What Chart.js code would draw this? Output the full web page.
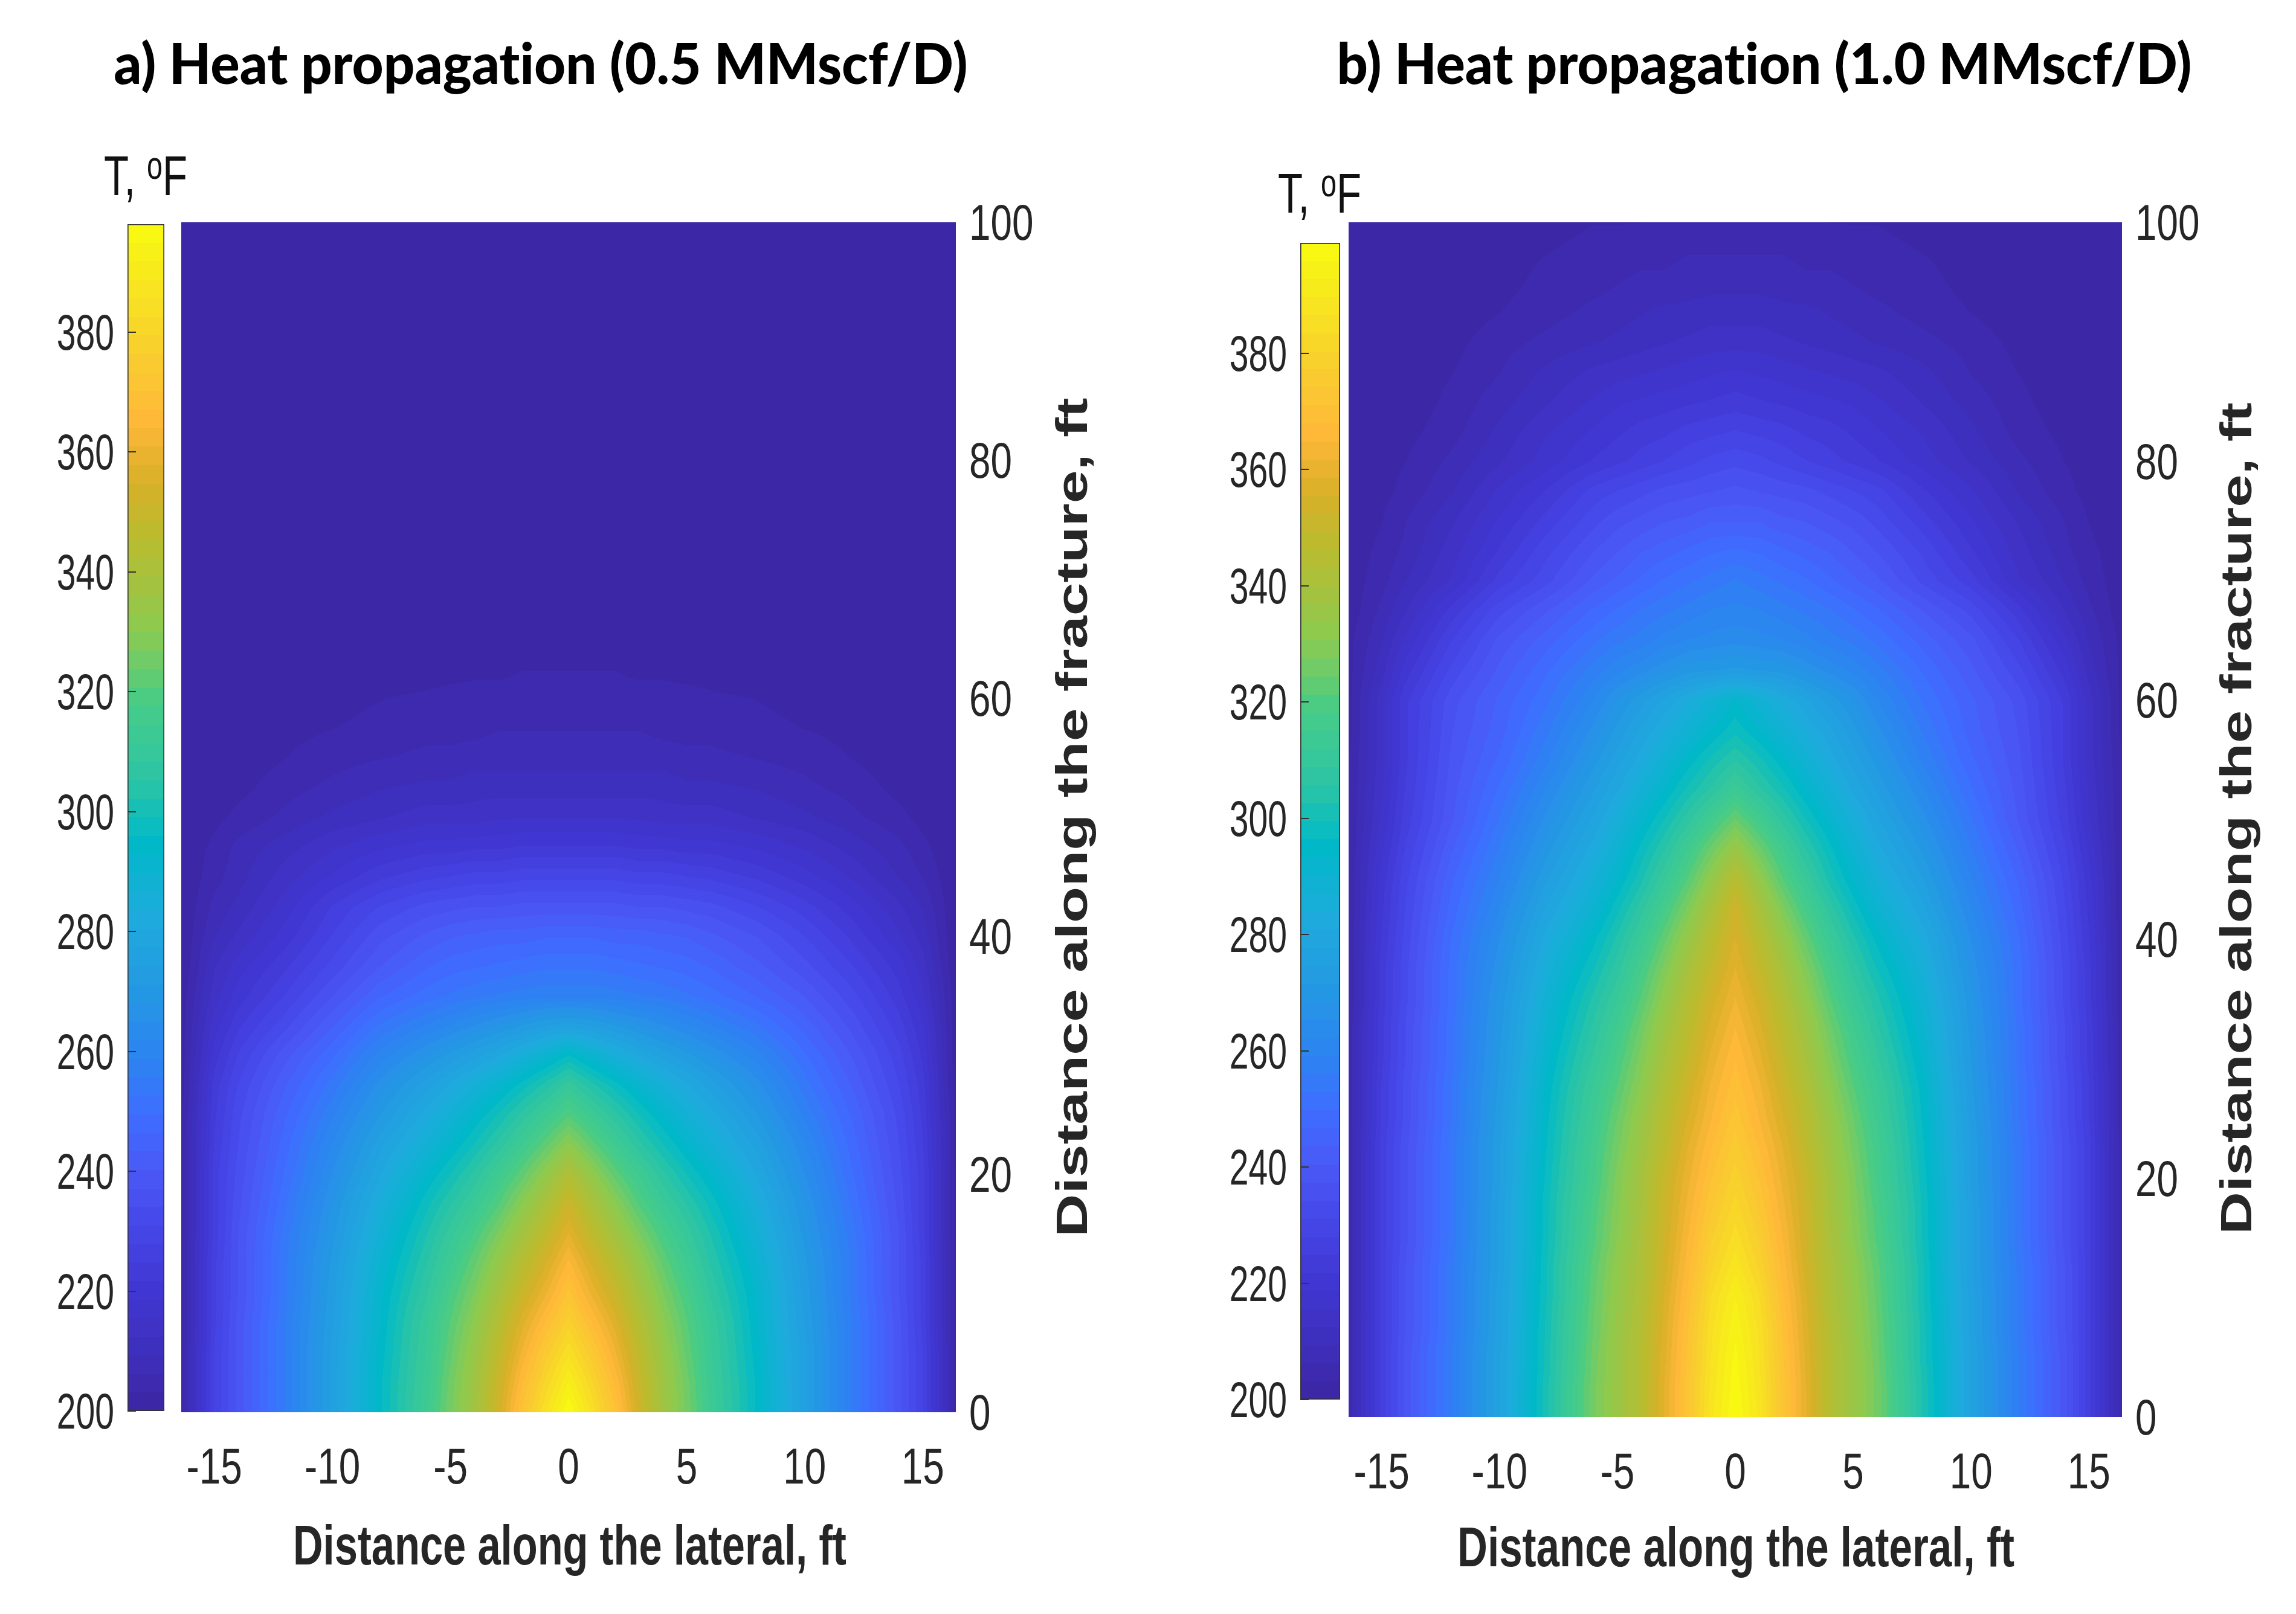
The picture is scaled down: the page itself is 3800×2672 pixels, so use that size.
<!DOCTYPE html>
<html>
<head>
<meta charset="utf-8">
<title>Heat propagation</title>
<script src="https://cdn.jsdelivr.net/npm/chart.js@4"></script>
<style>
  body { margin: 0; background: #fff; width: 3800px; height: 2672px; position: relative; overflow: hidden; }
  canvas { position: absolute; }
  .txt { position: absolute; white-space: nowrap; line-height: 1; color: #262626; }
  .head { font: 900 94px Lato; color: #000; font-variant-ligatures: none; }
  .xlab { font: 700 92px "Liberation Sans"; }
  .ylab { font: 700 72px "Liberation Sans"; }
  .cbar { font: 400 92px "Liberation Sans"; color: #111; }
  .cbar sup { font-size: 64px; line-height: 0; vertical-align: 0.42em; }
</style>
</head>
<body>
<div class="txt head" data-x="895" data-y="102" data-len="1413">a) Heat propagation (0.5 MMscf/D)</div>
<div class="txt head" data-x="2920" data-y="102" data-len="1415">b) Heat propagation (1.0 MMscf/D)</div>
<div class="txt cbar" data-x="241" data-y="291" data-len="138">T, <sup>o</sup>F</div>
<div class="txt cbar" data-x="2184" data-y="320" data-len="138">T, <sup>o</sup>F</div>
<div class="txt xlab" data-x="943" data-y="2558" data-len="916">Distance along the lateral, ft</div>
<div class="txt xlab" data-x="2873" data-y="2561" data-len="922">Distance along the lateral, ft</div>
<div class="txt ylab" data-x="1774" data-y="1353" data-len="1389" data-rot="-90">Distance along the fracture, ft</div>
<div class="txt ylab" data-x="3701" data-y="1355" data-len="1377" data-rot="-90">Distance along the fracture, ft</div>

<canvas id="cbarA" width="233" height="2065" style="left:41px;top:331px"></canvas>
<canvas id="heatA" width="1412" height="2160" style="left:300px;top:308px"></canvas>
<canvas id="cbarB" width="238" height="2015" style="left:1982px;top:362px"></canvas>
<canvas id="heatB" width="1410" height="2168" style="left:2232px;top:308px"></canvas>

<script>
const fractureFt = [0,2.5,5,7.5,10,12.5,15,17.5,20,22.5,25,27.5,30,32.5,35,37.5,40,42.5,45,47.5,50,52.5,55,57.5,60,62.5,65,67.5,70,72.5,75,77.5,80,82.5,85,87.5,90,92.5,95,97.5,100];
const lateralFt = [-16.4,-15,-14,-12,-10,-8,-6,-5,-4,-3,-2,-1,0,1,2,3,4,5,6,8,10,12,14,15,16.4];
const xTickStep = 5;
const yTickStep = 20;
const tempTickStep = 20;

// colour bar
const cmapTemps = [200,210,220,230,240,250,258,270,282,295,305,318,330,345,355,365,380,398];
const cmapColors = ['#3c26a2','#3e2fbc','#4036d2','#4546e6','#4a58f6','#3e6eff','#2d82f2','#2498e4','#1eaadc','#00b9c8','#2cc4a6','#46cc88','#8ccb50','#b8bc30','#d8b028','#ffb83a','#f8d52a','#f8fb10'];
const cmapLevels = 64;

const cold = [200,200,200,200,200,200,200,200,200,200,200,200,200,200,200,200,200,200,200,200,200,200,200,200,200];

const tempA = [
  [202,228,238,256,275,295,314,326,337,352,370,385,398,385,370,352,337,326,314,295,275,256,238,228,202],
  [202,228,238,256,275,295,313,325,336,350,366,380,392,380,366,350,336,325,313,295,275,256,238,228,202],
  [202,228,238,256,275,294,312,323,334,347,361,374,385,374,361,347,334,323,312,294,275,256,238,228,202],
  [202,227,238,256,274,293,311,321,331,343,356,367,378,367,356,343,331,321,311,293,274,256,238,227,202],
  [202,227,237,255,273,292,308,318,327,338,350,360,371,360,350,338,327,318,308,292,273,255,237,227,202],
  [202,227,237,255,272,290,305,314,323,333,344,354,365,354,344,333,323,314,305,290,272,255,237,227,202],
  [202,226,237,254,270,287,302,310,318,327,337,347,358,347,337,327,318,310,302,287,270,254,237,226,202],
  [202,226,236,252,268,284,298,305,312,320,330,340,351,340,330,320,312,305,298,284,268,252,236,226,202],
  [202,226,235,250,265,280,293,299,306,314,322,332,342,332,322,314,306,299,293,280,265,250,235,226,202],
  [202,225,234,248,262,276,287,293,299,306,314,322,331,322,314,306,299,293,287,276,262,248,234,225,202],
  [202,224,233,246,258,271,282,287,293,299,306,313,320,313,306,299,293,287,282,271,258,246,233,224,202],
  [201,223,231,243,254,266,276,281,286,291,297,303,310,303,297,291,286,281,276,266,254,243,231,223,201],
  [201,220,228,239,249,260,268,272,276,280,285,290,296,290,285,280,276,272,268,260,250,240,229,221,201],
  [201,217,224,233,243,253,259,262,265,268,271,274,276,274,271,268,265,262,259,253,245,236,226,219,201],
  [201,214,220,228,237,246,251,253,255,256,257,258,258,258,257,256,255,253,251,246,240,232,223,216,201],
  [200,212,217,224,232,240,246,248,249,250,251,252,252,252,251,250,249,248,246,241,235,228,220,214,200],
  [200,209,213,220,228,236,241,243,244,245,245,246,246,246,245,245,244,243,241,237,231,224,216,211,200],
  [200,207,210,217,225,231,235,236,237,237,238,238,238,238,238,237,237,236,235,231,226,220,213,209,200],
  [200,205,208,214,219,224,227,228,229,229,230,230,230,230,230,229,229,228,227,224,220,215,209,206,200],
  [200,204,207,211,215,218,220,220,221,221,222,222,222,222,222,221,221,220,220,218,215,211,207,204,200],
  [200,202,204,207,210,212,214,214,214,215,215,215,215,215,215,215,214,214,214,212,210,207,204,202,200],
  [200,201,202,205,207,209,210,210,211,211,211,211,211,211,211,211,211,210,210,209,207,205,202,201,200],
  [200,200,201,203,205,206,207,207,208,208,208,208,208,208,208,208,208,207,207,206,205,203,201,200,200],
  [200,200,200,202,203,204,205,205,205,206,206,206,206,206,206,206,205,205,205,204,203,202,200,200,200],
  [200,200,200,201,202,203,203.5,204,204,204,204,204,204,204,204,204,204,204,203.5,203,202,201,200,200,200],
  [200,200,200,200,201,201.5,202,202,202.5,202.5,203,203,203,203,203,202.5,202.5,202,202,201.5,201,200,200,200,200],
  [200,200,200,200,200,200,201,201,201,201,201,201,201,201,201,201,201,201,201,200,200,200,200,200,200],
  cold,cold,cold,cold,cold,cold,cold,cold,cold,cold,cold,cold,cold,cold
];

const tempB = [
  [204,226,238,256,277,301,326,335,344,358,372,388,398,388,372,358,344,335,326,301,277,256,238,226,204],
  [204,226,238,256,277,301,326,335,344,358,372,387,397,387,372,358,344,335,326,301,277,256,238,226,204],
  [204,226,238,256,277,300,325,335,344,357,371,386,396,386,371,357,344,335,325,300,277,256,238,226,204],
  [204,226,237,255,276,300,324,334,343,356,370,385,394,385,370,356,343,334,324,300,276,255,237,226,204],
  [204,226,237,255,276,299,323,333,342,355,368,383,392,383,368,355,342,333,323,299,276,255,237,226,204],
  [204,226,237,255,275,299,322,332,341,353,366,379,388,379,366,353,341,332,322,299,275,255,237,226,204],
  [204,226,236,254,275,298,320,330,340,352,364,376,384,376,364,352,340,330,320,298,275,254,236,226,204],
  [204,226,236,254,275,298,319,329,339,351,362,373,381,373,362,351,339,329,319,298,275,254,236,226,204],
  [204,226,236,254,274,297,317,328,338,350,360,370,378,370,360,350,338,328,317,297,274,254,236,226,204],
  [204,226,236,254,274,296,316,326,336,347,358,367,375,367,358,347,336,326,316,296,274,254,236,226,204],
  [204,225,235,253,273,295,314,324,334,345,355,364,372,364,355,345,334,324,314,295,273,253,235,225,204],
  [204,225,235,253,272,294,312,321,331,342,352,362,369,362,352,342,331,321,312,294,272,253,235,225,204],
  [204,224,234,252,271,292,309,318,328,339,349,359,367,359,349,339,328,318,309,292,271,252,234,224,204],
  [204,224,234,252,270,290,306,315,325,336,346,356,364,356,346,336,325,315,306,290,270,252,234,224,204],
  [203,223,233,251,269,288,303,311,321,332,343,353,361,353,343,332,321,311,303,288,269,251,233,223,203],
  [203,223,233,251,267,285,299,307,317,328,339,349,358,349,339,328,317,307,299,285,267,251,233,223,203],
  [203,222,232,250,265,282,295,303,312,323,334,345,355,345,334,323,312,303,295,282,265,250,232,222,203],
  [203,221,231,248,262,278,290,298,307,317,328,340,352,340,328,317,307,298,290,278,262,248,231,221,203],
  [203,220,230,246,259,274,286,293,301,311,321,333,345,333,321,311,301,293,286,274,259,246,230,220,203],
  [203,218,228,243,256,270,282,289,297,305,315,325,335,325,315,305,297,289,282,270,256,243,228,218,203],
  [203,216,226,240,253,266,278,285,292,299,307,316,324,316,307,299,292,285,278,266,253,240,226,216,203],
  [203,215,225,239,250,262,274,280,287,293,300,306,313,306,300,293,287,280,274,262,250,239,225,215,203],
  [203,214,224,238,247,258,270,276,282,288,294,300,305,300,294,288,282,276,270,258,247,238,224,214,203],
  [202,214,224,237,245,255,266,272,278,283,288,293,298,293,288,283,278,272,266,255,245,237,224,214,202],
  [202,214,224,236,244,252,262,268,273,278,283,288,293,288,283,278,273,268,262,252,244,236,224,214,202],
  [202,211,220,232,241,249,257,261,264,267,270,271,272,271,270,267,264,261,257,249,241,232,220,211,202],
  [202,209,216,228,238,245,252,255,257,260,262,263,264,263,262,260,257,255,252,245,238,228,216,209,202],
  [201,207,212,223,233,240,247,250,253,255,257,259,260,259,257,255,253,250,247,240,233,223,212,207,201],
  [201,205,209,216,226,233,241,244,247,250,252,254,256,254,252,250,247,244,241,233,226,216,209,205,201],
  [201,204,207,214,222,230,237,240,243,245,247,249,250,249,247,245,243,240,237,230,222,214,207,204,201],
  [200,203,206,212,219,226,233,236,238,240,241,243,243,243,241,240,238,236,233,226,219,212,206,203,200],
  [200,202,204,209,216,222,229,231,233,235,236,237,238,237,236,235,233,231,229,222,216,209,204,202,200],
  [200,202,203,207,212,217,222,224,226,228,230,232,233,232,230,228,226,224,222,217,212,207,203,202,200],
  [200,201,202,205,210,215,219,221,223,224,226,227,228,227,226,224,223,221,219,215,210,205,202,201,200],
  [200,201,201,204,208,212,216,218,219,220,221,222,223,222,221,220,219,218,216,212,208,204,201,201,200],
  [200,200,201,203,206,210,213,214,215,216,217,218,219,218,217,216,215,214,213,210,206,203,201,200,200],
  [200,200,201,202,205,207,209,210,211,212,213,214,214,214,213,212,211,210,209,207,205,202,201,200,200],
  [200,200,200,201,203,205,207,208,209,210,210,211,211,211,210,210,209,208,207,205,203,201,200,200,200],
  [200,200,200,201,202,204,205,206,207,207,208,208,208,208,208,207,207,206,205,204,202,201,200,200,200],
  [200,200,200,200,202,203,204,204,205,205,206,206,206,206,206,205,205,204,204,203,202,200,200,200,200],
  [200,200,200,200,201,202,203,203,203,204,204,204,204,204,204,204,203,203,203,202,201,200,200,200,200]
];

function hexToRgb(h) {
  return [1, 3, 5].map(i => parseInt(h.substr(i, 2), 16));
}

// the colour bar has stepped levels, so the map is stepped as well
const tMin = cmapTemps[0], tTop = cmapTemps[cmapTemps.length - 1];
const levelRgb = [];
for (let l = 0; l < cmapLevels; l++) {
  const t = tMin + (l + 0.5) * (tTop - tMin) / cmapLevels;
  let i = 0;
  while (i < cmapTemps.length - 2 && t > cmapTemps[i + 1]) i++;
  const f = (t - cmapTemps[i]) / (cmapTemps[i + 1] - cmapTemps[i]);
  const a = hexToRgb(cmapColors[i]), b = hexToRgb(cmapColors[i + 1]);
  levelRgb.push(a.map((v, k) => Math.round(v + (b[k] - v) * f)));
}

function levelOf(t) {
  const l = Math.floor((t - tMin) / (tTop - tMin) * cmapLevels);
  return Math.max(0, Math.min(cmapLevels - 1, l));
}

// index and fraction of every pixel between two read positions
function pixelSpans(from, to, scale, stops) {
  const spans = [];
  for (let p = from; p < to; p++) {
    const v = scale.getValueForPixel(p + 0.5);
    let i = 0;
    while (i < stops.length - 2 && v > stops[i + 1]) i++;
    spans.push([i, Math.max(0, Math.min(1, (v - stops[i]) / (stops[i + 1] - stops[i])))]);
  }
  return spans;
}

// shading interp between the read values, the row bars are filled with it
const fills = {};
function heatFill(context, temps) {
  const chart = context.chart, area = chart.chartArea;
  const xs = chart.scales.x, ys = chart.scales.y;
  if (!area || !xs || !ys || !isFinite(xs.getPixelForValue(0)) || !isFinite(ys.getPixelForValue(0)) || area.right <= area.left) return cmapColors[0];
  const id = chart.canvas.id;
  if (fills[id]) return fills[id];
  const left = Math.floor(area.left), top = Math.floor(area.top);
  const w = Math.ceil(area.right) - left, h = Math.ceil(area.bottom) - top;
  const off = document.createElement('canvas');
  off.width = chart.canvas.width;
  off.height = chart.canvas.height;
  const octx = off.getContext('2d');
  const img = octx.createImageData(w, h);
  const cols = pixelSpans(left, left + w, xs, lateralFt);
  const rows = pixelSpans(top, top + h, ys, fractureFt);
  let n = 0;
  rows.forEach(([r, fy]) => {
    const lo = temps[r], hi = temps[r + 1];
    cols.forEach(([c, fx]) => {
      const a = lo[c] + (lo[c + 1] - lo[c]) * fx;
      const b = hi[c] + (hi[c + 1] - hi[c]) * fx;
      const rgb = levelRgb[levelOf(a + (b - a) * fy)];
      img.data[n++] = rgb[0];
      img.data[n++] = rgb[1];
      img.data[n++] = rgb[2];
      img.data[n++] = 255;
    });
  });
  octx.putImageData(img, left, top);
  fills[id] = chart.ctx.createPattern(off, 'no-repeat');
  return fills[id];
}

function barGradient(context, tMax) {
  const y = context.chart.scales.y;
  const y0 = y ? y.getPixelForValue(200) : NaN;
  const y1 = y ? y.getPixelForValue(tMax) : NaN;
  if (context.dataIndex === undefined || !isFinite(y0) || !isFinite(y1)) return cmapColors[0];
  const g = context.chart.ctx.createLinearGradient(0, y0, 0, y1);
  levelRgb.forEach((rgb, l) => {
    const c = `rgb(${rgb.join(',')})`;
    g.addColorStop(Math.min(1, l / cmapLevels), c);
    g.addColorStop(Math.min(1, (l + 1) / cmapLevels), c);
  });
  return g;
}

// tick labels in the reference are squeezed sideways by the image resize
function squeezeText(canvas, sx, dy) {
  const ctx = canvas.getContext('2d');
  const fill = ctx.fillText.bind(ctx);
  ctx.fillText = (s, x, y) => {
    ctx.save();
    ctx.translate(x, y + dy);
    ctx.scale(sx, 1);
    fill(s, 0, 0);
    ctx.restore();
  };
  return canvas;
}

function noPadding(s) {
  s.paddingLeft = s.paddingRight = s.paddingTop = s.paddingBottom = 0;
}

const tickFont = { family: '"Liberation Sans"', size: 84 };

function heatChart(id, temps, xHalf) {
  return new Chart(squeezeText(document.getElementById(id), 0.76, 6), {
    type: 'bar',
    data: {
      datasets: [{
        data: fractureFt.map(y => ({ y: y, x: [lateralFt[0], lateralFt[lateralFt.length - 1]] })),
        backgroundColor: c => heatFill(c, temps),
        borderWidth: 0,
        barPercentage: 1.15,
        categoryPercentage: 1
      }]
    },
    options: {
      indexAxis: 'y',
      responsive: false,
      animation: false,
      layout: { padding: { top: 60 } },
      plugins: { legend: { display: false }, tooltip: { enabled: false } },
      scales: {
        x: {
          type: 'linear', min: -xHalf, max: xHalf,
          grid: { display: false, drawTicks: false }, border: { display: false },
          ticks: { stepSize: xTickStep, includeBounds: false, maxRotation: 0, autoSkip: false, padding: 38, color: '#262626', font: tickFont },
          afterFit: s => { s.height = 130; noPadding(s); }
        },
        y: {
          type: 'linear', position: 'right', min: 0, max: 100, offset: false,
          grid: { display: false, drawTicks: false }, border: { display: false },
          ticks: { stepSize: yTickStep, includeBounds: false, padding: 22, color: '#262626', font: tickFont },
          afterFit: s => { s.width = 130; noPadding(s); }
        }
      }
    }
  });
}

function colorBar(id, tMax) {
  return new Chart(squeezeText(document.getElementById(id), 0.68, 6), {
    type: 'bar',
    data: {
      labels: ['T'],
      datasets: [{
        data: [[200, tMax]],
        backgroundColor: c => barGradient(c, tMax),
        borderColor: '#333',
        borderWidth: 2,
        borderSkipped: false,
        barPercentage: 1,
        categoryPercentage: 1
      }]
    },
    options: {
      responsive: false,
      animation: false,
      layout: { padding: { top: 40, bottom: 60, right: 2 } },
      plugins: { legend: { display: false }, tooltip: { enabled: false } },
      scales: {
        x: { display: false },
        y: {
          min: 200, max: tMax,
          grid: { z: 1, tickLength: -14, drawOnChartArea: false, color: '#333', lineWidth: 2 }, border: { display: false },
          ticks: { stepSize: tempTickStep, includeBounds: false, padding: 36, color: '#262626', font: tickFont },
          afterFit: s => { s.width = 170; noPadding(s); }
        }
      }
    }
  });
}

colorBar('cbarA', 398);
heatChart('heatA', tempA, 16.4);
colorBar('cbarB', 399);
heatChart('heatB', tempB, 16.4);

// text stretched to the measured length, the reference is a resized image
document.querySelectorAll('.txt').forEach(el => {
  const sx = el.dataset.len / el.offsetWidth;
  el.style.left = el.dataset.x + 'px';
  el.style.top = el.dataset.y + 'px';
  el.style.transform = `translate(-50%,-50%) rotate(${el.dataset.rot || 0}deg) scaleX(${sx})`;
});
</script>
</body>
</html>
